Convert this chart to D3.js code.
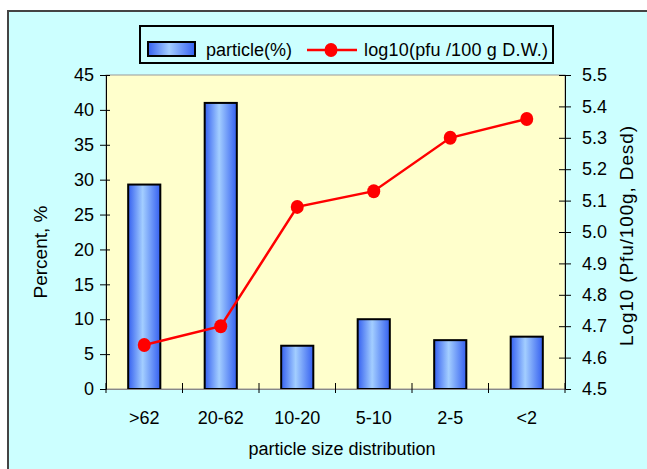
<!DOCTYPE html>
<html>
<head>
<meta charset="utf-8">
<script src="https://cdn.jsdelivr.net/npm/d3@7"></script>
<style>
  body { margin: 0; background: #fff; }
  svg { display: block; font-family: "Liberation Sans", Arial, sans-serif; }
</style>
</head>
<body>
<script>
// chart data
var categories = [">62", "20-62", "10-20", "5-10", "2-5", "<2"];
var particlePct = [29.3, 41.0, 6.2, 10.0, 7.0, 7.5];
var logPfu = [4.64, 4.70, 5.08, 5.13, 5.30, 5.36];
var leftTicks = [0, 5, 10, 15, 20, 25, 30, 35, 40, 45];
var rightTicks = [4.5, 4.6, 4.7, 4.8, 4.9, 5.0, 5.1, 5.2, 5.3, 5.4, 5.5];

var W = 647, H = 469;
var m = { left: 106, right: 565, top: 75, bottom: 389 };

var svg = d3.select("body").append("svg")
  .attr("width", W)
  .attr("height", H);

// gradient for the bars
var defs = svg.append("defs");
var grad = defs.append("linearGradient")
  .attr("id", "barGrad")
  .attr("x1", "0%").attr("x2", "100%")
  .attr("y1", "0%").attr("y2", "0%");
grad.append("stop").attr("offset", "0%").attr("stop-color", "#3560f0");
grad.append("stop").attr("offset", "45%").attr("stop-color", "#a3ceff");
grad.append("stop").attr("offset", "100%").attr("stop-color", "#3560f0");

// outer chart area
svg.append("rect")
  .attr("x", 8).attr("y", 11)
  .attr("width", W + 20).attr("height", H + 20)
  .attr("fill", "#ccffff")
  .attr("stroke", "#444")
  .attr("stroke-width", 2);

// plot area
svg.append("rect")
  .attr("x", m.left).attr("y", m.top)
  .attr("width", m.right - m.left).attr("height", m.bottom - m.top)
  .attr("fill", "#ffffcc")
  .attr("stroke", "#999")
  .attr("stroke-width", 1);

var x = d3.scaleBand()
  .domain(categories)
  .range([m.left, m.right])
  .paddingInner(0.58)
  .paddingOuter(0.29);

var xOuter = d3.scaleBand()
  .domain(categories)
  .range([m.left, m.right]);

var y = d3.scaleLinear().domain([0, 45]).range([m.bottom, m.top]);
var y2 = d3.scaleLinear().domain([4.5, 5.5]).range([m.bottom, m.top]);

// bars
svg.append("g").selectAll("rect")
  .data(particlePct)
  .enter()
  .append("rect")
  .attr("x", function(d, i) { return x(categories[i]); })
  .attr("y", function(d) { return y(d); })
  .attr("width", x.bandwidth())
  .attr("height", function(d) { return m.bottom - y(d); })
  .attr("fill", "url(#barGrad)")
  .attr("stroke", "#000")
  .attr("stroke-width", 2);

// axes
var fontSize = "18px";

var leftAxis = svg.append("g")
  .attr("transform", "translate(" + m.left + ",0)")
  .call(d3.axisLeft(y).tickValues(leftTicks).tickSize(5).tickPadding(7));
leftAxis.selectAll(".tick line").attr("x2", -6).attr("x1", 4);

var rightAxis = svg.append("g")
  .attr("transform", "translate(" + m.right + ",0)")
  .call(d3.axisRight(y2).tickValues(rightTicks).tickSize(5).tickPadding(12)
    .tickFormat(d3.format(".1f")));
rightAxis.selectAll(".tick line").attr("x1", -6).attr("x2", 6);

var bottomAxis = svg.append("g")
  .attr("transform", "translate(0," + m.bottom + ")")
  .call(d3.axisBottom(xOuter).tickSize(0).tickPadding(22));

// band-boundary ticks on the category axis
bottomAxis.selectAll(".sep")
  .data(categories.concat(["end"]))
  .enter()
  .append("line")
  .attr("class", "sep")
  .attr("x1", function(d, i) { return m.left + i * xOuter.step(); })
  .attr("x2", function(d, i) { return m.left + i * xOuter.step(); })
  .attr("y1", -6).attr("y2", 4)
  .attr("stroke", "#000");

[leftAxis, rightAxis, bottomAxis].forEach(function(g) {
  g.selectAll("text")
    .attr("font-family", "Liberation Sans, Arial, sans-serif")
    .attr("font-size", fontSize)
    .attr("fill", "#000");
  g.selectAll(".domain").attr("stroke", "#000");
  g.selectAll(".tick line").attr("stroke", "#000");
});
bottomAxis.select(".domain").attr("stroke", "#888");

// line series
var line = d3.line()
  .x(function(d, i) { return xOuter(categories[i]) + xOuter.bandwidth() / 2; })
  .y(function(d) { return y2(d); });

svg.append("path")
  .datum(logPfu)
  .attr("d", line)
  .attr("fill", "none")
  .attr("stroke", "#ff0000")
  .attr("stroke-width", 2.5);

svg.append("g").selectAll("ellipse")
  .data(logPfu)
  .enter()
  .append("ellipse")
  .attr("cx", function(d, i) { return xOuter(categories[i]) + xOuter.bandwidth() / 2; })
  .attr("cy", function(d) { return y2(d); })
  .attr("rx", 6.5)
  .attr("ry", 7)
  .attr("fill", "#ff0000");

// axis titles
svg.append("text")
  .attr("transform", "translate(47,252) rotate(-90)")
  .attr("text-anchor", "middle")
  .attr("font-size", "19px")
  .text("Percent, %");

svg.append("text")
  .attr("transform", "translate(633,236) rotate(-90)")
  .attr("text-anchor", "middle")
  .attr("font-size", "19px")
  .attr("textLength", 220)
  .text("Log10 (Pfu/100g, Desd)");

svg.append("text")
  .attr("x", 342).attr("y", 455)
  .attr("text-anchor", "middle")
  .attr("font-size", "18px")
  .text("particle size distribution");

// legend
var legend = svg.append("g");
legend.append("rect")
  .attr("x", 140).attr("y", 26)
  .attr("width", 413).attr("height", 37)
  .attr("fill", "#ccffff")
  .attr("stroke", "#000")
  .attr("stroke-width", 2);
legend.append("rect")
  .attr("x", 148).attr("y", 42)
  .attr("width", 47).attr("height", 14)
  .attr("fill", "url(#barGrad)")
  .attr("stroke", "#000")
  .attr("stroke-width", 2);
legend.append("text")
  .attr("x", 206).attr("y", 56)
  .attr("font-size", "18px")
  .attr("textLength", 86)
  .text("particle(%)");
legend.append("line")
  .attr("x1", 307).attr("x2", 357)
  .attr("y1", 50).attr("y2", 50)
  .attr("stroke", "#ff0000")
  .attr("stroke-width", 2.5);
legend.append("ellipse")
  .attr("cx", 331).attr("cy", 50)
  .attr("rx", 6.5).attr("ry", 7)
  .attr("fill", "#ff0000");
legend.append("text")
  .attr("x", 364).attr("y", 56)
  .attr("font-size", "18px")
  .attr("textLength", 184)
  .text("log10(pfu /100 g D.W.)");
</script>
</body>
</html>
